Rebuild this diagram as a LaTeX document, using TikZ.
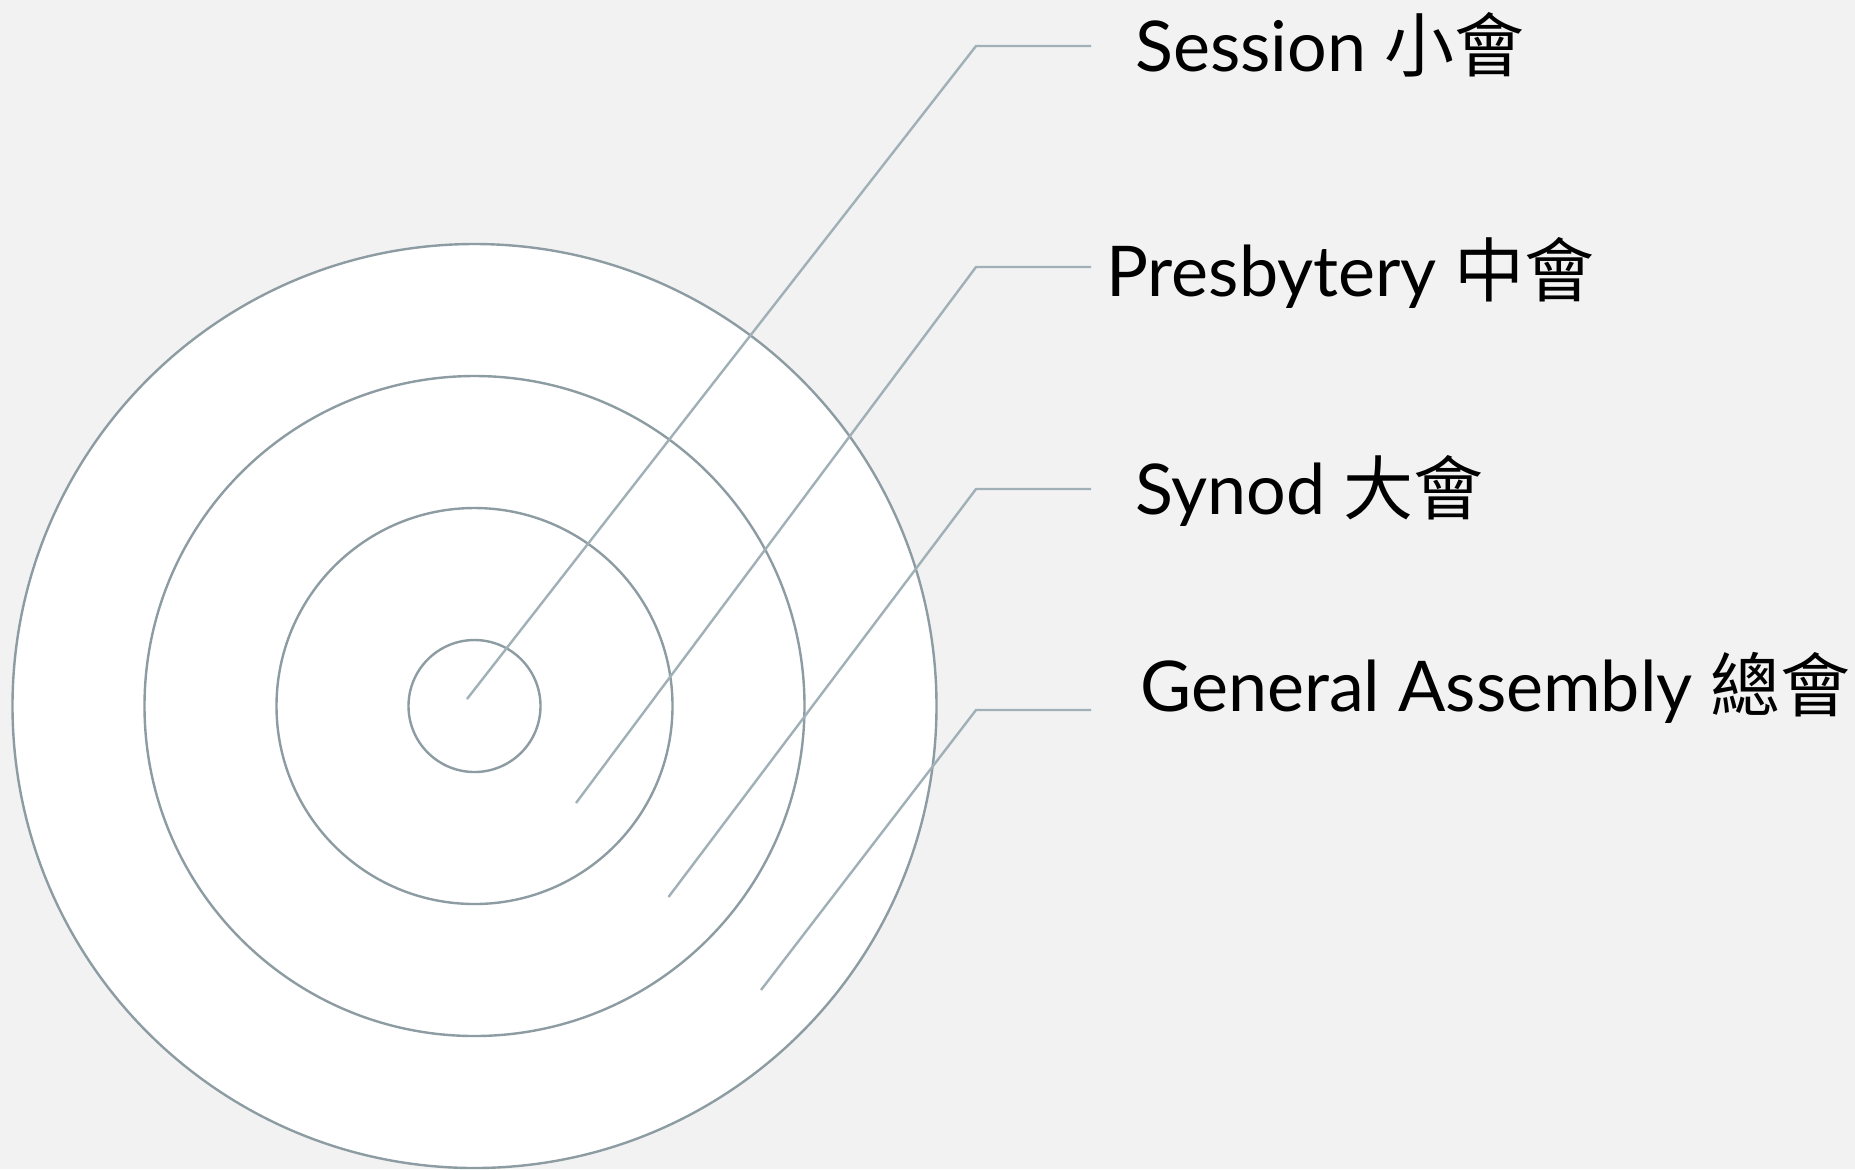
\documentclass[tikz,border=0pt]{standalone}
\usepackage{fontspec}
\setmainfont{Lato}
\newfontfamily\cjk{Noto Sans CJK TC}
\definecolor{ringcol}{HTML}{8C9CA2}
\definecolor{leadcol}{HTML}{A0B0B6}
\definecolor{paper}{HTML}{F2F2F2}
\begin{document}
\begin{tikzpicture}[x=0.5pt, y=-0.5pt,
    ring/.style={draw=ringcol, line width=1.2pt, fill=white},
    lead/.style={draw=leadcol, line width=1.2pt},
    lab/.style={anchor=base west, inner sep=0pt, font=\fontsize{35}{42}\selectfont}]
  \fill[paper] (0,0) rectangle (1855,1169);
  \useasboundingbox (0,0) rectangle (1855,1169);
  % rings, outermost first
  \coordinate (ctr) at (474.5,706);
  \draw[ring] (ctr) circle [radius=231pt]
              (ctr) circle [radius=165pt]
              (ctr) circle [radius=99pt]
              (ctr) circle [radius=33pt];
  % labels
  \node[lab] (session) at (1135,71.7) {Session {\cjk 小會}};
  \node[lab] (presb) at (1106,296) {Presbytery {\cjk 中會}};
  \node[lab] (synod) at (1135,514) {Synod {\cjk 大會}};
  \node[lab] (ga) at (1140,711) {General Assembly {\cjk 總會}};
  % leader lines
  \coordinate (s1) at (467,699);   \coordinate (k1) at (976,46);  \coordinate (t1) at (1091,46);
  \coordinate (s2) at (576,803);   \coordinate (k2) at (976,267); \coordinate (t2) at (1091,267);
  \coordinate (s3) at (668.5,897); \coordinate (k3) at (976,489); \coordinate (t3) at (1091,489);
  \coordinate (s4) at (761,990);   \coordinate (k4) at (976,710); \coordinate (t4) at (1091,710);
  \draw[lead] (s1) -- (k1) -- (t1)
              (s2) -- (k2) -- (t2)
              (s3) -- (k3) -- (t3)
              (s4) -- (k4) -- (t4);
\end{tikzpicture}
\end{document}
